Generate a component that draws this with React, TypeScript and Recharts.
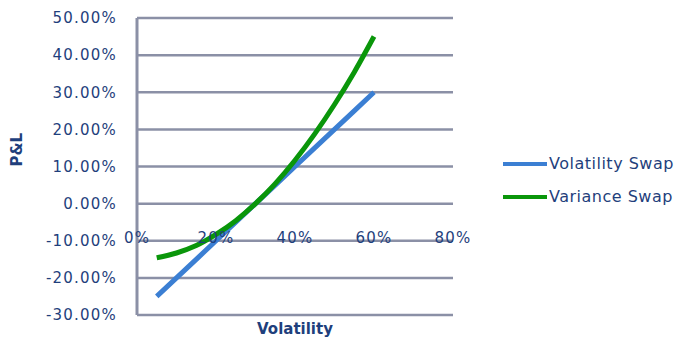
import { LineChart, Line, XAxis, YAxis, CartesianGrid, Legend } from 'recharts';

// volatility level (x) and P&L of each swap
const volatility = [0.05, 0.1, 0.15, 0.2, 0.25, 0.3, 0.35, 0.4, 0.45, 0.5, 0.55, 0.6];
const volSwap = [-0.25, -0.2, -0.15, -0.1, -0.05, 0, 0.05, 0.1, 0.15, 0.2, 0.25, 0.3];
const varSwap = [-0.146, -0.133, -0.113, -0.083, -0.046, 0, 0.054, 0.117, 0.188, 0.267, 0.354, 0.45];
const xTicks = [0, 0.2, 0.4, 0.6, 0.8];
const yTicks = [-0.3, -0.2, -0.1, 0, 0.1, 0.2, 0.3, 0.4, 0.5];

const data = volatility.map((v, i) => ({ vol: v, volSwap: volSwap[i], varSwap: varSwap[i] }));

const navy = '#1f3f7c';
const grid = '#8b90a6';
const font = '"DejaVu Sans", sans-serif';

// x labels sit just under the zero line, as in the original
const XTick = (props: any) => {
  const { x, y, payload } = props;
  return (
    <text x={x} y={y - 85} textAnchor="middle" dominantBaseline="central" fill={navy}
      fontSize={15} fontFamily={font} letterSpacing={1.2}>
      {Math.round(payload.value * 100)}%
    </text>
  );
};

const LegendBox = () => (
  <div style={{ fontFamily: font, fontSize: 16, color: navy, letterSpacing: 0.5 }}>
    {[
      { name: 'Volatility Swap', color: '#3b7fd3' },
      { name: 'Variance Swap', color: '#0a960a' },
    ].map((s) => (
      <div key={s.name} style={{ display: 'flex', alignItems: 'center', height: 33 }}>
        <span style={{ width: 44, height: 4, background: s.color, display: 'inline-block', marginRight: 2 }} />
        {s.name}
      </div>
    ))}
  </div>
);

export default function App() {
  return (
    <LineChart width={687} height={340} data={data}
      margin={{ top: 18, right: 234, bottom: 0, left: 0 }}
      style={{ position: 'absolute', left: 0, top: 0 }}>
      <CartesianGrid vertical={false} stroke={grid} strokeWidth={2.5} />
      <XAxis dataKey="vol" type="number" domain={[0, 0.8]} ticks={xTicks}
        axisLine={false} tickLine={false} height={25} tick={<XTick />}
        label={{ value: 'Volatility', position: 'insideBottom', offset: 6, fill: navy,
          fontSize: 15, fontWeight: 'bold', fontFamily: font }} />
      <YAxis type="number" domain={[-0.3, 0.5]} ticks={yTicks} width={137}
        axisLine={{ stroke: grid, strokeWidth: 3 }} tickLine={false} tickSize={0} tickMargin={20}
        tickFormatter={(v: number) => (v * 100).toFixed(2) + '%'}
        tick={{ fill: navy, fontSize: 15, fontFamily: font, letterSpacing: 1.2 }}
        label={{ value: 'P&L', angle: -90, position: 'insideLeft', offset: 17, fill: navy,
          fontSize: 15, fontWeight: 'bold', fontFamily: font }} />
      <Legend layout="vertical" align="center" verticalAlign="middle" content={<LegendBox />}
        wrapperStyle={{ left: 503, top: 147, width: 184 }} />
      <Line dataKey="volSwap" name="Volatility Swap" stroke="#3b7fd3" strokeWidth={5}
        dot={false} isAnimationActive={false} />
      <Line dataKey="varSwap" name="Variance Swap" type="monotone" stroke="#0a960a" strokeWidth={5}
        dot={false} isAnimationActive={false} />
    </LineChart>
  );
}
